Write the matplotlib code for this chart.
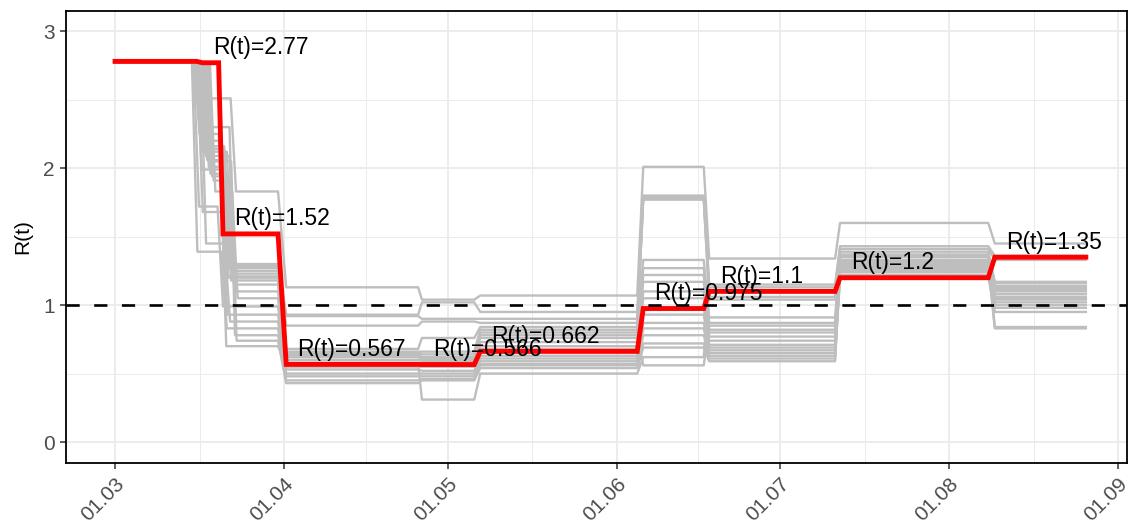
import matplotlib
matplotlib.use('Agg')
import matplotlib.pyplot as plt
import matplotlib.dates as mdates
import pandas as pd

plt.rcParams['font.family'] = ['Liberation Sans', 'DejaVu Sans']

# 기준 날짜 (아래 일수는 이 날짜로부터의 오프셋)
base_date = '2020-03-01'

# 빨간 선: 구간별 R(t) 추정값
seg_start = [0.0, 16.0, 19.8, 31.4, 56.3, 67.0, 96.9, 109.0, 133.0, 161.4]
seg_end = [15.0, 19.0, 29.9, 55.6, 65.9, 95.8, 108.0, 132.1, 160.2, 178.1]
r_values = [2.78, 2.77, 1.52, 0.567, 0.566, 0.662, 0.975, 1.1, 1.2, 1.35]

# 회색 선: 표본별 R(t) (앞쪽 두 번의 변화 시점은 표본마다 다름)
gray_first = 2.77
gray_drop1 = [15.5, 14.5, 14.8, 15.0, 15.3, 15.6, 15.9, 16.2, 16.5, 16.8,
              17.1, 17.4, 14.4, 15.1, 15.7, 14.1, 16.6, 17.0, 14.9, 15.4]
gray_drop2 = [21.2, 19.0, 19.5, 20.0, 20.5, 21.0, 19.2, 19.8, 20.3, 20.8,
              21.2, 21.5, 18.8, 19.6, 20.1, 19.5, 21.0, 21.3, 19.4, 20.0]
gray_b = [2.51, 2.25, 2.20, 2.16, 2.12, 2.09, 2.06, 2.01, 1.96, 1.94,
          1.91, 1.83, 1.72, 1.68, 1.45, 1.39, 2.30, 2.05, 1.99, 2.14]
gray_c = [1.83, 1.30, 1.28, 1.27, 1.25, 1.23, 1.21, 1.20, 1.18, 1.15,
          1.10, 1.05, 0.99, 0.93, 0.88, 0.83, 0.78, 0.74, 0.70, 1.29]
gray_d = [1.13, 0.93, 0.92, 0.85, 0.68, 0.66, 0.65, 0.64, 0.62, 0.60,
          0.58, 0.56, 0.55, 0.53, 0.50, 0.48, 0.45, 0.43, 0.57, 0.63]
gray_e = [1.04, 1.02, 0.90, 0.88, 0.76, 0.66, 0.64, 0.62, 0.61, 0.60,
          0.58, 0.57, 0.55, 0.52, 0.50, 0.48, 0.46, 0.45, 0.31, 0.59]
gray_f = [1.07, 0.95, 0.90, 0.87, 0.84, 0.82, 0.80, 0.76, 0.73, 0.70,
          0.68, 0.66, 0.63, 0.61, 0.59, 0.57, 0.56, 0.54, 0.50, 0.78]
gray_g = [2.01, 1.80, 1.79, 1.78, 1.77, 1.33, 1.27, 1.22, 1.17, 1.10,
          1.05, 0.98, 0.93, 0.87, 0.83, 0.78, 0.72, 0.69, 0.62, 0.56]
gray_h = [1.34, 1.15, 1.13, 1.06, 1.04, 0.91, 0.87, 0.82, 0.80, 0.77,
          0.74, 0.71, 0.69, 0.67, 0.65, 0.63, 0.61, 0.59, 1.10, 0.85]
gray_i = [1.60, 1.43, 1.41, 1.39, 1.37, 1.35, 1.33, 1.31, 1.30, 1.28,
          1.27, 1.25, 1.24, 1.22, 1.21, 1.20, 1.36, 1.32, 1.29, 1.26]
gray_j = [1.45, 1.36, 1.33, 1.17, 1.16, 1.14, 1.13, 1.11, 1.10, 1.08,
          1.06, 1.05, 1.04, 1.02, 1.00, 0.98, 0.95, 0.84, 0.83, 1.12]

base = pd.Timestamp(base_date)


def to_dates(days):
    return (base + pd.to_timedelta(days, unit='D')).to_numpy()


fig = plt.figure(figsize=(11.29, 5.26), dpi=100)
ax = fig.add_axes([66 / 1129, 1 - 462.7 / 526, (1127 - 66) / 1129, (462.7 - 11) / 526])

# 회색 선
later = [gray_c, gray_d, gray_e, gray_f, gray_g, gray_h, gray_i, gray_j]
for i in range(len(gray_b)):
    days = [0, gray_drop1[i], gray_drop1[i] + 1, gray_drop2[i], gray_drop2[i] + 1]
    vals = [gray_first, gray_first, gray_b[i], gray_b[i], gray_c[i]]
    for k, seg in enumerate(later):
        if k > 0:
            days.append(seg_start[k + 2])
            vals.append(seg[i])
        days.append(seg_end[k + 2])
        vals.append(seg[i])
    ax.plot(to_dates(days), vals, color='#BEBEBE', lw=1.7, zorder=2)

# 빨간 선
red_days, red_vals = [], []
for s, e, v in zip(seg_start, seg_end, r_values):
    red_days += [s, e]
    red_vals += [v, v]
ax.plot(to_dates(red_days), red_vals, color='#FF0000', lw=3.5, zorder=3,
        solid_joinstyle='miter')

ax.axhline(1, color='black', lw=1.9, ls=(0, (5, 5.5)), zorder=4)

# 라벨
for s, v in zip(seg_start[1:], r_values[1:]):
    ax.text(to_dates([s + 2])[0], v + 0.11, 'R(t)=' + format(v, '.3g'),
            fontsize=16.5, va='center', ha='left', color='black', zorder=5)

# 축 설정
ax.set_xlim(to_dates([-9.0])[0], to_dates([185.65])[0])
ax.set_ylim(-0.151, 3.148)
months = pd.date_range('2020-03-01', '2020-09-01', freq='MS')
mnum = mdates.date2num(months.to_pydatetime())
ax.set_xticks(mnum)
ax.set_xticks((mnum[:-1] + mnum[1:]) / 2, minor=True)
ax.xaxis.set_major_formatter(mdates.DateFormatter('%d.%m'))
ax.set_yticks([0, 1, 2, 3])
ax.set_yticks([0.5, 1.5, 2.5], minor=True)
ax.grid(which='major', color='#EBEBEB', lw=1.3)
ax.grid(which='minor', color='#EBEBEB', lw=0.7)
ax.set_axisbelow(True)

ax.tick_params(which='major', length=4.5, width=1.1, color='#333333',
               labelcolor='#4D4D4D', labelsize=15)
ax.tick_params(which='minor', length=0)
plt.setp(ax.get_xticklabels(), rotation=45, ha='right', va='top',
         rotation_mode='anchor')
for sp in ax.spines.values():
    sp.set_color('black')
    sp.set_linewidth(1.3)
ax.set_ylabel('R(t)', fontsize=15, labelpad=8)

plt.savefig('out.png', dpi=100)
